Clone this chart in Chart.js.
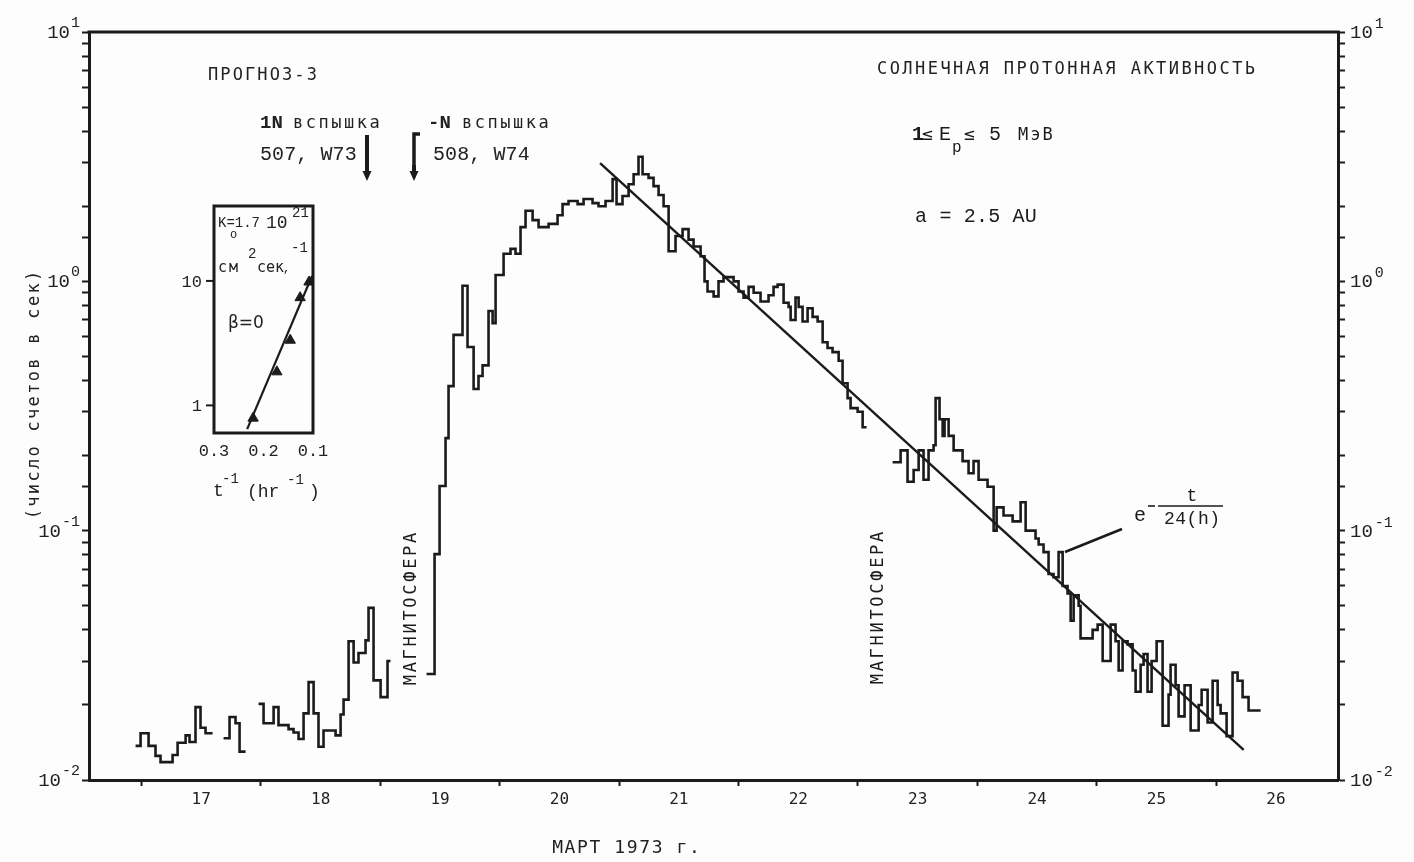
<!DOCTYPE html>
<html><head><meta charset="utf-8">
<script src="https://cdn.jsdelivr.net/npm/chart.js@4.4.0/dist/chart.umd.min.js"></script>
<style>
html,body{margin:0;padding:0;background:#fdfdfd;}
#wrap{position:relative;width:1414px;height:862px;overflow:hidden;}
canvas{position:absolute;left:0;top:0;}
#inset{pointer-events:none;}
</style></head><body>
<div id="wrap"><canvas id="main" width="1414" height="862"></canvas><canvas id="inset" width="1414" height="862"></canvas></div>
<script>
// ---------- DATA ----------
// time in days of March 1973 (day boundary = integer), counting rate (counts/s); null = data gap
const days = [
  16.950,16.992,17.059,17.117,17.159,17.260,17.302,17.369,17.402,17.452,17.494,17.536,17.595,
  17.640,
  17.687,17.737,17.787,17.821,17.871,
  17.920,
  17.980,18.022,18.106,18.147,18.231,18.273,18.315,18.357,18.399,18.441,18.482,18.524,18.625,18.667,18.692,
  18.734,18.776,18.817,18.876,18.901,18.943,19.002,19.060,19.085,
  19.200,
  19.387,19.454,19.496,19.546,19.571,19.613,19.688,19.730,19.781,19.822,19.856,19.906,19.940,19.965,
  20.032,20.090,20.132,20.174,20.216,20.275,20.325,20.409,20.484,20.526,20.576,20.652,20.702,20.777,
  20.827,20.886,20.945,20.978,21.028,21.079,21.121,21.162,21.196,21.246,21.288,21.330,21.372,21.414,
  21.472,21.531,21.581,21.623,21.682,21.715,21.740,21.791,21.832,21.874,21.958,22.000,22.042,22.084,
  22.126,22.184,22.251,22.293,22.327,22.377,22.419,22.436,22.477,22.503,22.536,22.578,22.620,22.662,
  22.704,22.745,22.787,22.838,22.871,22.913,22.938,22.997,23.039,23.072,
  23.180,
  23.290,23.357,23.415,23.466,23.508,23.549,23.591,23.633,23.650,23.683,23.709,23.725,23.759,23.801,
  23.876,23.926,23.968,24.010,24.085,24.136,24.161,24.219,24.295,24.362,24.404,24.487,24.513,24.554,
  24.596,24.638,24.680,24.714,24.755,24.781,24.806,24.848,24.864,24.965,25.007,25.049,25.116,25.157,
  25.183,25.216,25.258,25.300,25.325,25.367,25.392,25.425,25.459,25.501,25.551,25.601,25.618,25.660,
  25.685,25.735,25.786,25.853,25.878,25.928,25.970,26.012,26.037,26.087,26.137,26.179,26.221,26.271,26.372
];
const counts = [
  0.0137,0.0154,0.0137,0.0125,0.0118,0.0126,0.0141,0.0151,0.0142,0.0196,0.0162,0.0154,0.0154,
  null,
  0.0147,0.0179,0.0169,0.0130,0.0130,
  null,
  0.0202,0.0169,0.0196,0.0166,0.0160,0.0155,0.0146,0.0185,0.0247,0.0185,0.0136,0.0158,0.0151,0.0183,0.0210,
  0.0360,0.0296,0.0323,0.0363,0.0490,0.0251,0.0215,0.0300,0.0300,
  null,
  0.0266,0.0805,0.151,0.235,0.38,0.61,0.96,0.545,0.37,0.417,0.46,0.76,0.68,1.06,
  1.29,1.35,1.29,1.65,1.92,1.76,1.65,1.70,1.84,2.04,2.10,2.04,2.14,2.06,
  2.00,2.10,2.57,2.04,2.20,2.45,2.69,3.16,2.69,2.60,2.41,2.22,2.00,1.32,
  1.52,1.62,1.47,1.38,1.26,1.00,0.91,0.87,1.00,1.04,1.00,0.91,0.86,0.95,
  0.90,0.83,0.88,0.95,0.97,0.82,0.79,0.70,0.86,0.79,0.69,0.78,0.72,0.69,
  0.57,0.54,0.52,0.48,0.39,0.34,0.31,0.30,0.26,0.26,
  null,
  0.188,0.21,0.157,0.175,0.21,0.16,0.21,0.22,0.34,0.28,0.24,0.28,0.24,0.21,
  0.19,0.17,0.19,0.16,0.15,0.10,0.124,0.115,0.109,0.13,0.10,0.093,0.088,0.082,
  0.067,0.065,0.082,0.060,0.056,0.0435,0.055,0.050,0.037,0.040,0.042,0.030,0.042,0.036,
  0.0275,0.036,0.035,0.0275,0.0226,0.029,0.032,0.0226,0.030,0.036,0.0165,0.022,0.029,0.024,
  0.018,0.024,0.0158,0.020,0.023,0.017,0.025,0.020,0.0185,0.015,0.027,0.025,0.0215,0.019,0.019
];
// exponential fit e^(-t/24h)
const fitDays = [20.84, 26.23];
const fitCounts = [2.98, 0.0132];
// axes
const dayLabels = [17,18,19,20,21,22,23,24,25,26];
const yDecades = [0.01, 0.1, 1, 10];
const yExponents = ['-2','-1','0','1'];
// inset: intensity vs 1/t
const insetInvT = [0.221, 0.173, 0.146, 0.126, 0.108];
const insetRatio = [0.79, 1.86, 3.34, 7.34, 9.8];
const insetFitInvT = [0.233, 0.102];
const insetFitRatio = [0.645, 10.95];
const insetXTicks = [0.3, 0.2, 0.1];
const insetYTicks = [1, 10];

// ---------- DRAWING ----------
const INK = '#1b1b1b';
const TXT = '#222';
const MONO = "'DejaVu Sans Mono', monospace";
const TYPE = "'Liberation Mono', 'Courier New', monospace";

function spaced(ctx, text, x, y, font, ls, align) {
  ctx.font = font;
  ctx.textAlign = 'left';
  const chars = [...text];
  const w = chars.map(c => ctx.measureText(c).width);
  const total = w.reduce((a, b) => a + b, 0) + ls * (chars.length - 1);
  let cx = align === 'center' ? x - total / 2 : (align === 'right' ? x - total : x);
  chars.forEach((c, i) => { ctx.fillText(c, cx, y); cx += w[i] + ls; });
  return total;
}
function rotated(ctx, text, cx, cy, font, ls, half) {
  ctx.save();
  ctx.translate(cx, cy);
  ctx.rotate(-Math.PI / 2);
  spaced(ctx, text, 0, half, font, ls, 'center');
  ctx.restore();
}
function line(ctx, pts, w) {
  ctx.beginPath();
  ctx.moveTo(pts[0][0], pts[0][1]);
  for (let i = 1; i < pts.length; i++) ctx.lineTo(pts[i][0], pts[i][1]);
  ctx.lineWidth = w; ctx.strokeStyle = INK; ctx.stroke();
}
function arrowDown(ctx, x, y1, y2) {
  line(ctx, [[x, y1], [x, y2 - 8]], 4);
  ctx.beginPath();
  ctx.moveTo(x - 4.5, y2 - 10); ctx.lineTo(x + 4.5, y2 - 10); ctx.lineTo(x, y2); ctx.closePath();
  ctx.fillStyle = INK; ctx.fill();
}

const bgPlugin = {
  id: 'bg',
  beforeDraw(chart) {
    const ctx = chart.ctx;
    ctx.save(); ctx.fillStyle = '#fdfdfd'; ctx.fillRect(0, 0, chart.width, chart.height); ctx.restore();
  }
};

const annotPlugin = {
  id: 'annot',
  afterDraw(chart) {
    const ctx = chart.ctx;
    const ca = chart.chartArea;
    const ys = chart.scales.y;
    ctx.save();
    // top frame line
    line(ctx, [[ca.left - 1.5, ca.top], [ca.right + 1.5, ca.top]], 3);
    ctx.fillStyle = TXT;
    // y tick labels with superscripts (left and right)
    yDecades.forEach((v, i) => {
      const py = ys.getPixelForValue(v);
      ctx.font = '15px ' + TYPE;
      const ew = ctx.measureText(yExponents[i]).width;
      ctx.font = '19px ' + TYPE;
      const bw = ctx.measureText('10').width;
      const right = 80;
      ctx.textAlign = 'left';
      ctx.font = '19px ' + TYPE; ctx.fillText('10', right - ew - bw - 1, py + 6);
      ctx.font = '15px ' + TYPE; ctx.fillText(yExponents[i], right - ew, py - 5);
      ctx.font = '19px ' + TYPE; ctx.fillText('10', 1350, py + 6);
      ctx.font = '15px ' + TYPE; ctx.fillText(yExponents[i], 1350 + bw + 2, py - 4);
    });
    // titles
    spaced(ctx, 'ПРОГНОЗ-3', 208, 80, '17px ' + MONO, 2.1);
    spaced(ctx, 'СОЛНЕЧНАЯ ПРОТОННАЯ АКТИВНОСТЬ', 877, 74, '17px ' + MONO, 2.45);
    spaced(ctx, 'МАРТ 1973 г.', 626, 853, '18px ' + MONO, 1.6, 'center');
    rotated(ctx, '(число счетов в сек)', 33, 395, '17px ' + MONO, 2.3, 6);
    // flares
    spaced(ctx, '1N', 260, 128, 'bold 19px ' + TYPE, 0);
    spaced(ctx, 'вспышка', 293, 128, '17px ' + MONO, 2.5);
    spaced(ctx, '-N', 428, 128, 'bold 19px ' + TYPE, 0);
    spaced(ctx, 'вспышка', 462, 128, '17px ' + MONO, 2.5);
    spaced(ctx, '507, W73', 260, 160, '20px ' + TYPE, 0.1);
    spaced(ctx, '508, W74', 433, 160, '20px ' + TYPE, 0.1);
    arrowDown(ctx, 367, 135, 181);
    line(ctx, [[420, 134], [414, 134], [414, 171]], 3.5);
    arrowDown(ctx, 414, 165, 181);
    // energy range
    spaced(ctx, '1', 912, 140, 'bold 20px ' + TYPE, 0);
    spaced(ctx, '≤', 922, 140, '18px ' + MONO, 0);
    spaced(ctx, 'E', 939, 140, '20px ' + TYPE, 0);
    spaced(ctx, 'p', 952, 152, '16px ' + TYPE, 0);
    spaced(ctx, '≤', 964, 140, '18px ' + MONO, 0);
    spaced(ctx, '5', 989, 140, '20px ' + TYPE, 0);
    spaced(ctx, 'МэВ', 1018, 140, '17px ' + MONO, 2);
    spaced(ctx, 'a = 2.5 AU', 915, 222, '20px ' + TYPE, 0.2);
    // exponent formula
    spaced(ctx, 'e', 1134, 521, '20px ' + TYPE, 0);
    line(ctx, [[1148, 506], [1155, 506]], 1.6);
    line(ctx, [[1158, 506], [1223, 506]], 1.6);
    spaced(ctx, 't', 1192, 501, '18px ' + TYPE, 0, 'center');
    spaced(ctx, '24(h)', 1192, 524, '18px ' + TYPE, 0.5, 'center');
    line(ctx, [[1065, 552], [1122, 529]], 2.6);
    // magnetosphere marks
    rotated(ctx, 'МАГНИТОСФЕРА', 410, 609, '17px ' + MONO, 2.7, 6);
    rotated(ctx, 'МАГНИТОСФЕРА', 877, 608, '17px ' + MONO, 2.7, 6);
    ctx.restore();
  }
};

const mainChart = new Chart(document.getElementById('main'), {
  type: 'line',
  data: {
    datasets: [
      { data: days.map((d, i) => ({ x: d, y: counts[i] })), stepped: true, borderColor: INK,
        borderWidth: 2.6, pointRadius: 0, spanGaps: false, fill: false },
      { data: fitDays.map((d, i) => ({ x: d, y: fitCounts[i] })), borderColor: INK,
        borderWidth: 2.4, pointRadius: 0, fill: false }
    ]
  },
  options: {
    responsive: false, animation: false, devicePixelRatio: 1,
    layout: { padding: { top: 32, left: 0, right: 0, bottom: 0 } },
    plugins: { legend: { display: false }, tooltip: { enabled: false } },
    scales: {
      x: {
        type: 'linear', position: 'bottom', min: 16.56, max: 27.02,
        afterBuildTicks: s => {
          const t = [];
          dayLabels.forEach(d => { t.push({ value: d }); t.push({ value: d + 0.5 }); });
          s.ticks = t;
        },
        afterFit: s => { s.height = 82; },
        grid: { drawOnChartArea: false, drawTicks: true, tickLength: 6, tickWidth: 2,
          tickColor: c => (c.tick && Number.isInteger(c.tick.value)) ? INK : 'rgba(0,0,0,0)' },
        border: { display: true, color: INK, width: 3 },
        ticks: { autoSkip: false, maxRotation: 0, minRotation: 0, padding: 4, color: TXT,
          font: { family: 'DejaVu Sans Mono', size: 16 },
          callback: v => Number.isInteger(v) ? '' : String(Math.floor(v)) }
      },
      y: {
        type: 'logarithmic', position: 'left', min: 0.01, max: 10,
        afterFit: s => { s.width = 89; },
        grid: { drawOnChartArea: false, drawTicks: true, tickLength: 7, tickWidth: 2, tickColor: INK },
        border: { display: true, color: INK, width: 3 },
        ticks: { display: false }
      },
      y2: {
        type: 'logarithmic', position: 'right', min: 0.01, max: 10,
        afterFit: s => { s.width = 76; },
        grid: { drawOnChartArea: false, drawTicks: true, tickLength: 7, tickWidth: 2, tickColor: INK },
        border: { display: true, color: INK, width: 3 },
        ticks: { display: false }
      }
    }
  },
  plugins: [bgPlugin, annotPlugin]
});

// ---------- INSET ----------
const insetPlugin = {
  id: 'insetDeco',
  afterDraw(chart) {
    const ctx = chart.ctx;
    const ca = chart.chartArea;
    const xs = chart.scales.x, ys = chart.scales.y;
    ctx.save();
    ctx.lineWidth = 3; ctx.strokeStyle = INK;
    ctx.strokeRect(ca.left, ca.top, ca.right - ca.left, ca.bottom - ca.top);
    ctx.fillStyle = TXT;
    insetYTicks.forEach(v => {
      const py = ys.getPixelForValue(v);
      line(ctx, [[ca.left - 8, py], [ca.left, py]], 2);
      spaced(ctx, String(v), ca.left - 12, py + 6, '17px ' + TYPE, 0, 'right');
    });
    insetXTicks.forEach(v => {
      spaced(ctx, v.toFixed(1), xs.getPixelForValue(v), 456, '17px ' + TYPE, 0, 'center');
    });
    spaced(ctx, 'K=1.7', 218, 227, '14px ' + TYPE, 0);
    spaced(ctx, 'o', 230, 238, '12px ' + TYPE, 0);
    spaced(ctx, '10', 266, 228, '18px ' + TYPE, 0);
    spaced(ctx, '21', 292, 217, '14px ' + TYPE, 0);
    spaced(ctx, 'см', 218, 272, '15px ' + MONO, 2);
    spaced(ctx, '2', 248, 258, '14px ' + TYPE, 0);
    spaced(ctx, 'сек', 257, 272, '15px ' + MONO, 0);
    spaced(ctx, ',', 283, 272, '12px ' + TYPE, 0);
    spaced(ctx, '-1', 291, 252, '14px ' + TYPE, 0);
    spaced(ctx, 'β=0', 228, 328, "17px 'DejaVu Sans', sans-serif", 0);
    spaced(ctx, 't', 213, 496, '18px ' + TYPE, 0);
    spaced(ctx, '-1', 222, 483, '14px ' + TYPE, 0);
    spaced(ctx, '(hr', 247, 497, '18px ' + TYPE, 0);
    spaced(ctx, '-1', 287, 484, '14px ' + TYPE, 0);
    spaced(ctx, ')', 309, 497, '18px ' + TYPE, 0);
    ctx.restore();
  }
};

const insetChart = new Chart(document.getElementById('inset'), {
  type: 'scatter',
  data: {
    datasets: [
      { data: insetInvT.map((v, i) => ({ x: v, y: insetRatio[i] })), pointStyle: 'triangle',
        pointRadius: 6, backgroundColor: INK, borderColor: INK, borderWidth: 1 },
      { type: 'line', data: insetFitInvT.map((v, i) => ({ x: v, y: insetFitRatio[i] })),
        borderColor: INK, borderWidth: 2.2, pointRadius: 0, fill: false }
    ]
  },
  options: {
    responsive: false, animation: false, devicePixelRatio: 1,
    layout: { padding: { left: 214, right: 1101, top: 206, bottom: 429 } },
    plugins: { legend: { display: false }, tooltip: { enabled: false } },
    scales: {
      x: { type: 'linear', min: 0.1, max: 0.3, reverse: true, display: false },
      y: { type: 'logarithmic', min: 0.633, max: 40, display: false }
    }
  },
  plugins: [insetPlugin]
});
</script>
</body></html>
